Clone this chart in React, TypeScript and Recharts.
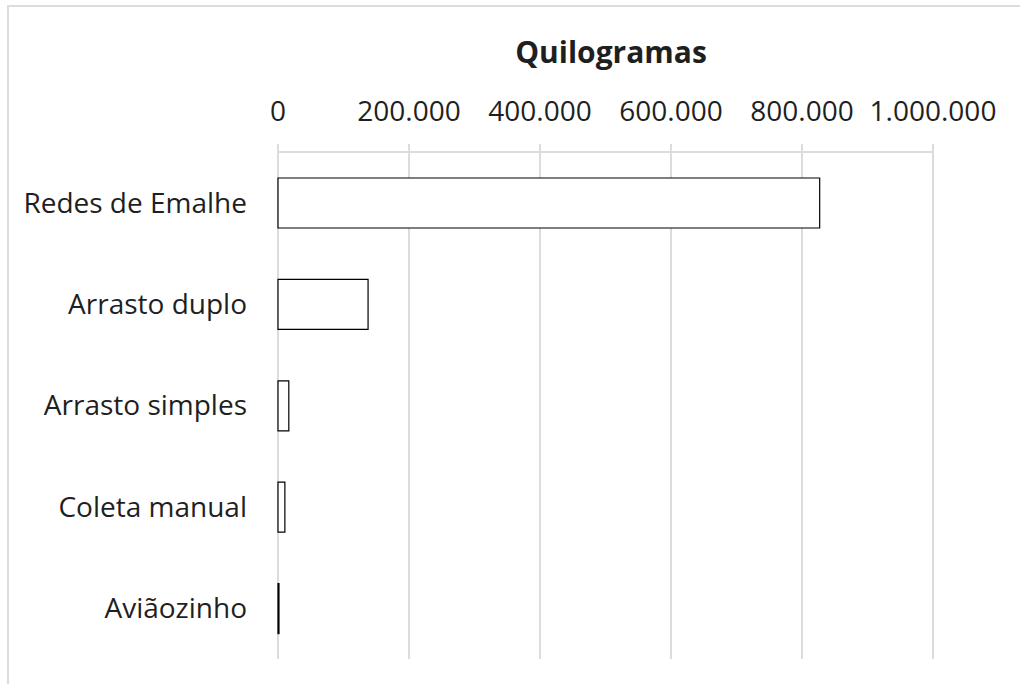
import { BarChart, Bar, XAxis, YAxis, CartesianGrid } from "recharts";

// Captura por arte de pesca (kg)
const categories = [
  "Redes de Emalhe",
  "Arrasto duplo",
  "Arrasto simples",
  "Coleta manual",
  "Aviãozinho",
];
const kilos = [827000, 137500, 16500, 10500, 1500];
const xTicks = [0, 200000, 400000, 600000, 800000, 1000000];

const rows = categories.map((name, i) => ({ name, kg: kilos[i] }));

const FONT = "'Open Sans', sans-serif";
const GRID = "#dcdcdc";
const TEXT = "#1f1f1f";

// 200000 -> "200.000"
function fmt(v: number): string {
  return String(v).replace(/\B(?=(\d{3})+(?!\d))/g, ".");
}

export default function App() {
  return (
    <div
      style={{
        position: "absolute",
        left: 0,
        top: 0,
        width: 1020,
        height: 684,
        overflow: "hidden",
        background: "#fff",
        fontFamily: FONT,
      }}
    >
      <div
        style={{
          position: "absolute",
          left: 7,
          top: 5,
          width: 1100,
          height: 800,
          border: `2px solid ${GRID}`,
        }}
      />
      <div
        style={{
          position: "absolute",
          left: 0,
          width: 1222,
          top: 33,
          textAlign: "center",
          fontSize: 30,
          fontWeight: 700,
          color: TEXT,
          lineHeight: "38px",
        }}
      >
        Quilogramas
      </div>
      <div style={{ position: "absolute", left: 0, top: 0 }}>
        <BarChart
          width={1020}
          height={684}
          data={rows}
          layout="vertical"
          barSize={50}
          margin={{ top: 92, right: 87, bottom: 25, left: 0 }}
        >
          <CartesianGrid horizontal={false} stroke={GRID} strokeWidth={2} />
          <XAxis
            type="number"
            orientation="top"
            domain={[0, 1000000]}
            ticks={xTicks}
            interval={0}
            tickFormatter={fmt}
            height={60}
            tickSize={8}
            tickMargin={23}
            stroke={GRID}
            strokeWidth={2}
            tick={{ fill: TEXT, fontSize: 28, fontFamily: FONT }}
          />
          <YAxis
            type="category"
            dataKey="name"
            width={278}
            axisLine={false}
            tickLine={false}
            tickSize={0}
            tickMargin={31}
            tick={{ fill: TEXT, fontSize: 28, fontFamily: FONT }}
          />
          <Bar
            dataKey="kg"
            fill="#ffffff"
            stroke="#000000"
            strokeWidth={1.2}
            isAnimationActive={false}
          />
        </BarChart>
      </div>
    </div>
  );
}
